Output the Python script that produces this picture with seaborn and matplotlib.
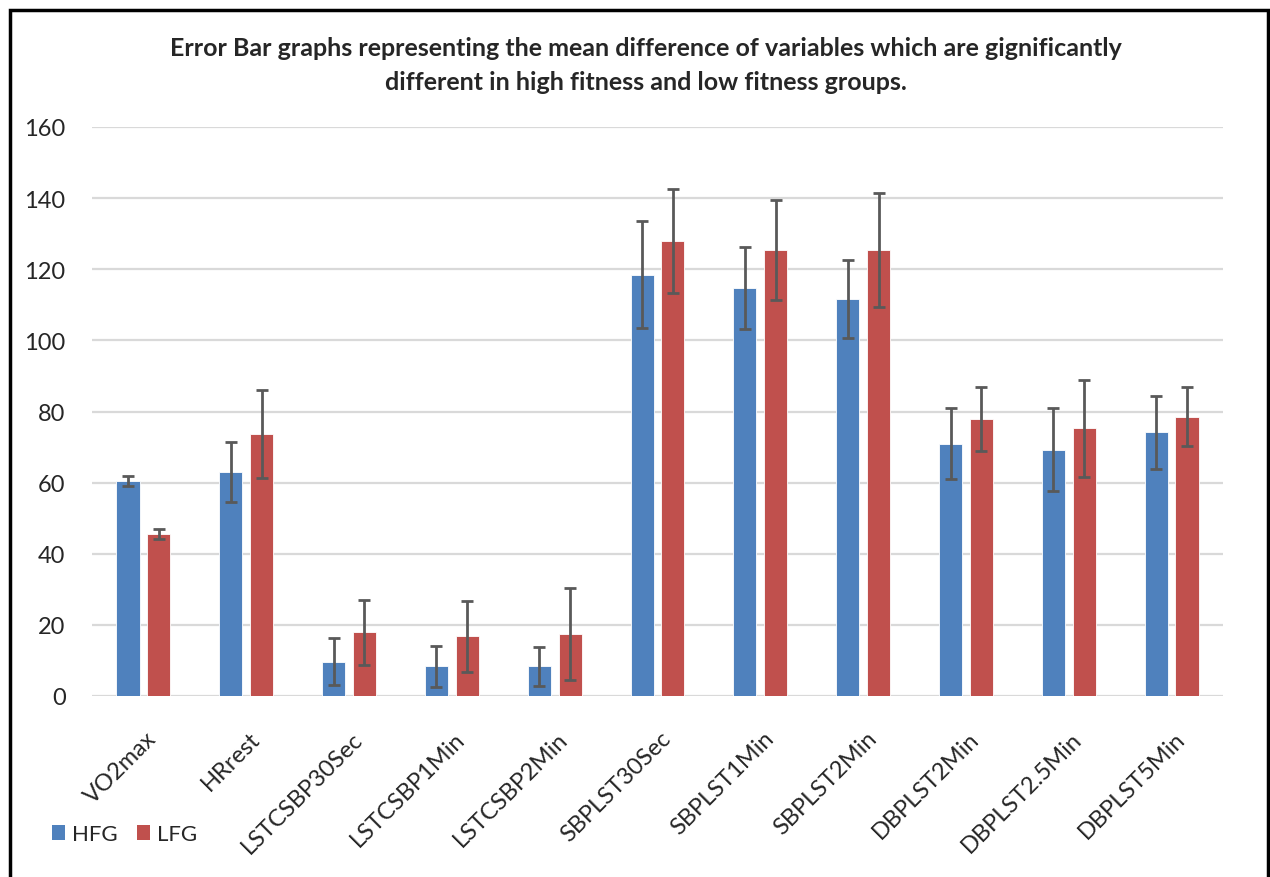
import pandas as pd
import matplotlib.pyplot as plt
import matplotlib.transforms as mtransforms
from matplotlib.patches import Rectangle, Patch
import seaborn as sns

# values
variables = ["VO2max", "HRrest", "LSTCSBP30Sec", "LSTCSBP1Min", "LSTCSBP2Min",
             "SBPLST30Sec", "SBPLST1Min", "SBPLST2Min", "DBPLST2Min",
             "DBPLST2.5Min", "DBPLST5Min"]
hfg_mean = [60.4, 62.9, 9.7, 8.3, 8.3, 118.5, 114.7, 111.7, 71.0, 69.3, 74.1]
hfg_err = [1.4, 8.4, 6.7, 5.8, 5.6, 15.1, 11.6, 10.9, 9.9, 11.6, 10.3]
lfg_mean = [45.5, 73.7, 17.9, 16.8, 17.5, 127.9, 125.5, 125.4, 77.9, 75.3, 78.5]
lfg_err = [1.4, 12.3, 9.1, 10.0, 12.9, 14.7, 14.1, 16.0, 9.1, 13.6, 8.3]
groups = ["HFG", "LFG"]
colors = ["#4F81BD", "#C0504D"]

df = pd.DataFrame({
    "variable": variables * 2,
    "group": ["HFG"] * len(variables) + ["LFG"] * len(variables),
    "mean": hfg_mean + lfg_mean,
})

sns.set_theme(style="white")
plt.rcParams["font.family"] = ["Lato", "DejaVu Sans"]

fig = plt.figure(figsize=(12.7, 8.78), dpi=100)
ax = fig.add_axes([92 / 1270, 181 / 878, 1131 / 1270, 569 / 878])

sns.barplot(data=df, x="variable", y="mean", hue="group", palette=colors,
            saturation=1, width=0.6, gap=0.25, errorbar=None, legend=False,
            ax=ax, edgecolor="white", linewidth=0.6)

# error bars on top of each bar
for cont, errs in zip(ax.containers, [hfg_err, lfg_err]):
    xs = [b.get_x() + b.get_width() / 2 for b in cont]
    ys = [b.get_height() for b in cont]
    ax.errorbar(xs, ys, yerr=errs, fmt="none", ecolor="#595959",
                elinewidth=2, capsize=4.5, capthick=2, zorder=5)

ax.set_ylim(0, 160)
ax.set_yticks(range(0, 161, 20))
ax.set_xlim(-0.5, len(variables) - 0.5)
ax.yaxis.grid(True, color="#D9D9D9", linewidth=1.6)
ax.set_axisbelow(True)
for s in ax.spines.values():
    s.set_visible(False)
ax.set_xlabel("")
ax.set_ylabel("")
ax.tick_params(axis="y", length=0, pad=19, labelsize=17)
ax.tick_params(axis="x", length=0, pad=28, labelsize=17)

offset = mtransforms.ScaledTranslation(10 / 100, 0, fig.dpi_scale_trans)
for lab in ax.get_xticklabels():
    lab.set_rotation(45)
    lab.set_ha("right")
    lab.set_va("center")
    lab.set_rotation_mode("anchor")
    lab.set_transform(lab.get_transform() + offset)

fig.text(0.509, 1 - 48 / 878,
         "Error Bar graphs representing the mean difference of variables which are gignificantly",
         ha="center", va="center", fontsize=18, fontweight="bold")
fig.text(0.509, 1 - 82 / 878, "different in high fitness and low fitness groups.",
         ha="center", va="center", fontsize=18, fontweight="bold")

handles = [Patch(facecolor=c, edgecolor="none") for c in colors]
fig.legend(handles, groups, loc="center left", bbox_to_anchor=(52 / 1270, 1 - 835 / 878),
           ncol=2, frameon=False, fontsize=16, handlelength=0.6, handleheight=0.65,
           handletextpad=0.3, columnspacing=0.85, borderpad=0, borderaxespad=0)

# outer frame
fig.patches.append(Rectangle((10 / 1270, -0.02), 1258 / 1270, 1.02 - 11 / 878,
                             transform=fig.transFigure, fill=False,
                             edgecolor="black", linewidth=2.5))

fig.savefig("out.png", dpi=100)
